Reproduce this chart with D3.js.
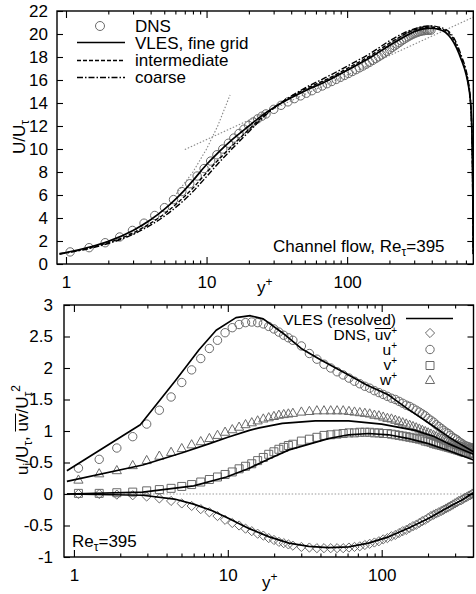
<!DOCTYPE html>
<html><head><meta charset="utf-8">
<script src="https://cdn.jsdelivr.net/npm/d3@7"></script>
<style>
body{margin:0;background:#fff}
svg{display:block}
text{font-family:"Liberation Sans",Arial,Helvetica,sans-serif;fill:#000}
</style>
</head><body>
<svg id="c" width="476" height="594"></svg>
<script>
// ---------- DATA ----------
// DNS wall-normal grid (y+)
const dnsYp = [1.07,1.46,1.90,2.41,2.97,3.59,4.28,5.02,5.82,6.67,7.59,8.57,9.60,10.69,11.84,13.04,14.31,15.63,17.01,18.44,19.94,21.48,23.09,24.75,
26.47,30.07,33.89,37.92,42.17,46.64,51.31,56.20,61.28,66.57,72.06,77.73,83.60,89.66,95.90,102.3,108.9,115.7,122.6,129.7,137.0,144.4,152.0,159.7,167.6,175.6,183.7,191.9,200.3,208.8,217.4,226.1,234.9,243.8,252.8,261.9,271.1,280.3,289.7,299.0,308.5,317.9,327.5,337.0,346.7,356.3,365.9,375.6,385.3,395];
// Top panel: mean velocity U/U_tau
const dnsU = [1.05,1.42,1.85,2.35,2.92,3.55,4.22,4.90,5.60,6.30,6.98,7.65,8.30,8.95,9.50,10.00,10.50,10.95,11.35,11.72,12.05,12.35,12.62,12.85,
13.05,13.45,13.80,14.10,14.38,14.62,14.85,15.07,15.28,15.48,15.68,15.87,16.05,16.23,16.40,16.57,16.74,16.90,17.06,17.22,17.38,17.54,17.70,17.86,18.02,18.18,18.34,18.50,18.66,18.82,18.97,19.12,19.26,19.40,19.53,19.65,19.76,19.86,19.95,20.03,20.10,20.16,20.21,20.25,20.28,20.30,20.32,20.33,20.34,20.34];
const vlesYp = [0.9,1,1.5,2,3,4,5,6,7,8,10,12,15,20,25,30,40,50,70,100,150,200,250,300,350,395,450,500,550,600,650,700,730,750,765,775,780,785,788,789.1];
const vlesFine = [0.9,1.0,1.5,1.97,2.92,3.85,4.75,5.62,6.45,7.25,8.65,9.65,10.75,12.0,12.95,13.6,14.45,15.05,15.85,16.85,18.05,19.0,19.7,20.2,20.45,20.5,
20.4,20.15,19.6,18.8,17.75,16.55,15.5,14.45,12.95,10.75,8.65,4.75,1.97,0.9];
const vlesInter = [0.88,0.97,1.42,1.85,2.7,3.55,4.35,5.15,5.9,6.6,7.95,9.0,10.2,11.7,12.8,13.55,14.5,15.2,16.0,17.0,18.2,19.2,19.9,20.35,20.55,20.6,
20.5,20.3,19.85,19.0,17.9,16.7,15.6,14.5,12.8,10.2,7.95,4.35,1.85,0.88];
const vlesCoarse = [0.85,0.95,1.38,1.78,2.58,3.38,4.15,4.9,5.6,6.3,7.6,8.7,9.95,11.5,12.7,13.55,14.6,15.3,16.2,17.2,18.4,19.4,20.05,20.45,20.65,20.7,
20.6,20.4,20.0,19.2,18.1,16.9,15.8,14.6,12.7,9.95,7.6,4.15,1.78,0.85];
const sublayerYp = [6.1,8,10,12,14.7];
const sublayerU  = [6.1,8,10,12,14.7];
const logLawYp = [7,790];
const logLawU  = [9.95,21.47];

// Bottom panel: DNS rms and shear stress
const dnsUrms = [0.41,0.55,0.73,0.91,1.11,1.33,1.54,1.77,1.97,2.15,2.31,2.44,2.56,2.64,2.69,2.72,2.73,2.72,2.70,2.66,2.62,2.57,2.52,2.48,
2.44,2.35,2.23,2.14,2.06,2.00,1.94,1.89,1.84,1.79,1.75,1.71,1.68,1.64,1.61,1.58,1.55,1.52,1.50,1.47,1.44,1.41,1.39,1.36,1.33,1.30,1.27,1.24,1.20,1.17,1.14,1.10,1.07,1.04,1.01,0.98,0.96,0.93,0.90,0.88,0.86,0.83,0.81,0.79,0.77,0.76,0.75,0.74,0.73,0.73];
const dnsWrms = [0.22,0.32,0.37,0.45,0.53,0.60,0.66,0.72,0.78,0.83,0.88,0.93,0.98,1.02,1.06,1.10,1.13,1.16,1.19,1.21,1.23,1.25,1.26,1.27,
1.28,1.30,1.31,1.32,1.32,1.32,1.32,1.32,1.31,1.30,1.29,1.28,1.27,1.25,1.24,1.22,1.20,1.19,1.17,1.15,1.13,1.11,1.09,1.07,1.05,1.03,1.01,0.99,0.97,0.95,0.93,0.91,0.89,0.87,0.86,0.84,0.83,0.81,0.80,0.78,0.77,0.76,0.75,0.74,0.73,0.72,0.71,0.71,0.70,0.70];
const dnsVrms = [0.01,0.01,0.02,0.03,0.05,0.07,0.09,0.12,0.15,0.19,0.23,0.27,0.31,0.35,0.40,0.44,0.48,0.53,0.58,0.63,0.67,0.71,0.74,0.77,
0.79,0.84,0.87,0.90,0.93,0.94,0.95,0.96,0.97,0.97,0.98,0.98,0.98,0.97,0.97,0.96,0.96,0.95,0.94,0.93,0.92,0.91,0.90,0.89,0.88,0.87,0.86,0.84,0.83,0.82,0.80,0.79,0.78,0.77,0.76,0.75,0.74,0.73,0.72,0.71,0.70,0.69,0.68,0.67,0.66,0.66,0.65,0.65,0.64,0.64];
const dnsUV = [0.00,0.00,-0.01,-0.02,-0.04,-0.07,-0.11,-0.15,-0.19,-0.24,-0.29,-0.35,-0.41,-0.46,-0.50,-0.55,-0.59,-0.63,-0.66,-0.70,-0.73,-0.76,-0.78,-0.80,
-0.82,-0.84,-0.85,-0.86,-0.86,-0.86,-0.86,-0.86,-0.85,-0.84,-0.83,-0.81,-0.79,-0.77,-0.75,-0.72,-0.70,-0.67,-0.65,-0.62,-0.59,-0.57,-0.54,-0.51,-0.49,-0.46,-0.43,-0.41,-0.38,-0.35,-0.33,-0.31,-0.29,-0.27,-0.25,-0.23,-0.21,-0.19,-0.17,-0.15,-0.13,-0.11,-0.10,-0.08,-0.06,-0.05,-0.03,-0.02,0.00,0.01];

const vlesUYp  = [0.9,2.7,4.6,6.5,8.4,11.3,14,17,22.6,30,40,61,80,111,150,201,271,330,395];
const vlesUVal = [0.37,1.10,1.81,2.29,2.60,2.80,2.83,2.78,2.56,2.31,2.13,1.89,1.73,1.57,1.34,1.13,0.91,0.78,0.67];
const vlesWYp  = [0.9,2.8,5,7.6,10,13.8,16,22.6,37,61,100,165,220,271,330,395];
const vlesWVal = [0.20,0.46,0.65,0.80,0.90,1.01,1.05,1.12,1.16,1.16,1.11,1.01,0.91,0.80,0.71,0.63];
const vlesVYp  = [0.9,2.8,6,9.8,13.8,18.6,25,45,61,82,111,150,201,271,330,395];
const vlesVVal = [0.0,0.03,0.13,0.27,0.41,0.56,0.70,0.88,0.94,0.96,0.94,0.88,0.80,0.69,0.61,0.54];
const vlesUVYp  = [0.9,2.8,4.5,6,8,10,13.8,18.6,25,33.6,45,61,82,111,150,201,271,330,395];
const vlesUVVal = [0.0,-0.02,-0.08,-0.16,-0.27,-0.38,-0.55,-0.68,-0.78,-0.83,-0.85,-0.84,-0.78,-0.68,-0.54,-0.39,-0.21,-0.10,0.02];

// Ticks
const xMajor = [1,10,100];
const xMinorTop = [2,3,4,5,6,7,8,9,20,30,40,50,60,70,80,90,200,300,400,500,600,700];
const xMinorBot = [2,3,4,5,6,7,8,9,20,30,40,50,60,70,80,90,200,300];
const yTicksTop = [0,2,4,6,8,10,12,14,16,18,20,22];
const yTicksBot = [-1,-0.5,0,0.5,1,1.5,2,2.5,3];

// ---------- DRAW ----------
const svg = d3.select('#c');
const MARK = '#6a6a6a';

function pair(xs, ys){ return xs.map((x,i)=>[x, ys[i]]); }

// draw an overline above a tspan (in the coordinate system of parent g)
function overline(parent, tspan, lift){
  const n = tspan.node(), len = n.getNumberOfChars();
  const a = n.getStartPositionOfChar(0), b = n.getEndPositionOfChar(len-1);
  parent.append('line').attr('x1',a.x).attr('x2',b.x).attr('y1',a.y-lift).attr('y2',b.y-lift)
    .attr('stroke','#000').attr('stroke-width',1);
}

function frame(x, y, xMinor, yTicks, yFmt, yPad){
  const [x0,x1] = x.range(), [y0,y1] = y.range();
  const g = svg.append('g');
  const styleAxis = s => { s.select('.domain').remove(); s.selectAll('line').attr('stroke','#000').attr('stroke-width',1.1); s.selectAll('text').attr('font-size',17).attr('font-family','"Liberation Sans",Arial,sans-serif'); };
  g.append('g').attr('transform',`translate(0,${y0})`).call(d3.axisBottom(x).tickValues(xMajor).tickSize(-7).tickPadding(12).tickFormat(d3.format('d'))).call(styleAxis);
  g.append('g').attr('transform',`translate(0,${y0})`).call(d3.axisBottom(x).tickValues(xMinor).tickSize(-3.5).tickFormat('')).call(styleAxis);
  g.append('g').attr('transform',`translate(0,${y1})`).call(d3.axisTop(x).tickValues(xMajor).tickSize(-7).tickFormat('')).call(styleAxis);
  g.append('g').attr('transform',`translate(0,${y1})`).call(d3.axisTop(x).tickValues(xMinor).tickSize(-3.5).tickFormat('')).call(styleAxis);
  g.append('g').attr('transform',`translate(${x0},0)`).call(d3.axisLeft(y).tickValues(yTicks).tickSize(-6).tickPadding(yPad).tickFormat(yFmt)).call(styleAxis);
  g.append('g').attr('transform',`translate(${x1},0)`).call(d3.axisRight(y).tickValues(yTicks).tickSize(-6).tickFormat('')).call(styleAxis);
  g.append('rect').attr('x',x0).attr('y',y1).attr('width',x1-x0).attr('height',y0-y1)
    .attr('fill','none').attr('stroke','#000').attr('stroke-width',1.4);
}

// ===== TOP PANEL =====
const xT = d3.scaleLog().domain([0.863, 790]).range([57, 473.3]);
const yT = d3.scaleLinear().domain([0, 22]).range([264, 11]);
svg.append('clipPath').attr('id','clipT').append('rect').attr('x',57).attr('y',11).attr('width',416.3).attr('height',253);
const pT = svg.append('g').attr('clip-path','url(#clipT)');
const lineT = d3.line().x(d=>xT(d[0])).y(d=>yT(d[1]));
const lineTc = d3.line().x(d=>xT(d[0])).y(d=>yT(d[1])).curve(d3.curveMonotoneX);

pT.append('path').attr('d',lineT(pair(sublayerYp,sublayerU))).attr('fill','none').attr('stroke','#888').attr('stroke-width',1.1).attr('stroke-dasharray','1.5,1.8');
pT.append('path').attr('d',lineT(pair(logLawYp,logLawU))).attr('fill','none').attr('stroke','#888').attr('stroke-width',1.1).attr('stroke-dasharray','1.5,1.8');

pT.selectAll('circle.dns').data(pair(dnsYp,dnsU)).join('circle')
  .attr('cx',d=>xT(d[0])).attr('cy',d=>yT(d[1])).attr('r',4.2)
  .attr('fill','none').attr('stroke',MARK).attr('stroke-width',1);

pT.append('path').attr('d',lineTc(pair(vlesYp,vlesCoarse))).attr('fill','none').attr('stroke','#000').attr('stroke-width',1.4).attr('stroke-dasharray','6,2,1.5,2');
pT.append('path').attr('d',lineTc(pair(vlesYp,vlesInter))).attr('fill','none').attr('stroke','#000').attr('stroke-width',1.4).attr('stroke-dasharray','4,2');
pT.append('path').attr('d',lineTc(pair(vlesYp,vlesFine))).attr('fill','none').attr('stroke','#000').attr('stroke-width',1.7);

frame(xT, yT, xMinorTop, yTicksTop, d3.format('d'), 9);

// legend top
const lgT = svg.append('g').attr('font-size',17);
lgT.append('circle').attr('cx',100).attr('cy',26).attr('r',4.5).attr('fill','none').attr('stroke',MARK).attr('stroke-width',1);
lgT.append('line').attr('x1',77).attr('x2',125).attr('y1',42.5).attr('y2',42.5).attr('stroke','#000').attr('stroke-width',1.7);
lgT.append('line').attr('x1',77).attr('x2',125).attr('y1',60.5).attr('y2',60.5).attr('stroke','#000').attr('stroke-width',1.3).attr('stroke-dasharray','4,2');
lgT.append('line').attr('x1',77).attr('x2',125).attr('y1',77.5).attr('y2',77.5).attr('stroke','#000').attr('stroke-width',1.3).attr('stroke-dasharray','6,2,1.5,2');
[['DNS',31.5],['VLES, fine grid',48.5],['intermediate',66],['coarse',83]].forEach(([t,y])=>{
  lgT.append('text').attr('x',135).attr('y',y).attr('font-size',17).text(t);
});

// annotation top
const annT = svg.append('text').attr('x',273).attr('y',252).attr('font-size',17);
annT.append('tspan').text('Channel flow, Re');
annT.append('tspan').attr('font-size',12).attr('dy',4).text('τ');
annT.append('tspan').attr('dy',-4).text('=395');

// axis labels top
const xlT = svg.append('text').attr('x',257).attr('y',293).attr('font-size',17);
xlT.append('tspan').text('y');
xlT.append('tspan').attr('font-size',12).attr('dy',-7).text('+');
const ylT = svg.append('text').attr('transform','translate(25,137) rotate(-90)').attr('text-anchor','middle').attr('font-size',17);
ylT.append('tspan').text('U/U');
ylT.append('tspan').attr('font-size',12).attr('dy',4).text('τ');

// ===== BOTTOM PANEL =====
const xB = d3.scaleLog().domain([0.862, 395]).range([64, 473.5]);
const yB = d3.scaleLinear().domain([-1, 3]).range([557, 305]);
svg.append('clipPath').attr('id','clipB').append('rect').attr('x',64).attr('y',305).attr('width',409.5).attr('height',252);
const pB = svg.append('g').attr('clip-path','url(#clipB)');
const lineB = d3.line().x(d=>xB(d[0])).y(d=>yB(d[1]));

pB.append('line').attr('x1',64).attr('x2',473.5).attr('y1',yB(0)).attr('y2',yB(0)).attr('stroke','#999').attr('stroke-width',1).attr('stroke-dasharray','1.5,1.8');

const sym = {
  circle: 'M4.2,0A4.2,4.2,0,1,1,-4.2,0A4.2,4.2,0,1,1,4.2,0Z',
  square: 'M-4,-4L4,-4L4,4L-4,4Z',
  triangle: 'M0,-5.2L4.6,3L-4.6,3Z',
  diamond: 'M0,-4.6L4.6,0L0,4.6L-4.6,0Z'
};
function markers(vals, s){
  pB.append('g').selectAll('path').data(pair(dnsYp, vals)).join('path')
    .attr('transform', d=>`translate(${xB(d[0])},${yB(d[1])})`)
    .attr('d', sym[s]).attr('fill','none').attr('stroke',MARK).attr('stroke-width',1);
}
markers(dnsUV,'diamond');
markers(dnsUrms,'circle');
markers(dnsVrms,'square');
markers(dnsWrms,'triangle');

[[vlesUYp,vlesUVal],[vlesWYp,vlesWVal],[vlesVYp,vlesVVal],[vlesUVYp,vlesUVVal]].forEach(([xs,ys])=>{
  pB.append('path').attr('d',lineB(pair(xs,ys))).attr('fill','none').attr('stroke','#000').attr('stroke-width',1.7).attr('stroke-linejoin','round');
});

frame(xB, yB, xMinorBot, yTicksBot, d=>String(d), 11);

// legend bottom
const lgB = svg.append('g').attr('font-size',15.5).attr('text-anchor','end');
lgB.append('text').attr('x',396).attr('y',325).text('VLES (resolved)');
lgB.append('line').attr('x1',406).attr('x2',453).attr('y1',318.5).attr('y2',318.5).attr('stroke','#000').attr('stroke-width',1.7);
const t2 = lgB.append('text').attr('x',397).attr('y',340);
t2.append('tspan').text('DNS, ');
const uvL = t2.append('tspan').text('uv');
t2.append('tspan').attr('font-size',10).attr('dy',-6).text('+');
overline(lgB, uvL, 11.5);
[['u',355],['v',370],['w',385]].forEach(([c,y])=>{
  const t = lgB.append('text').attr('x',397).attr('y',y);
  t.append('tspan').text(c);
  t.append('tspan').attr('font-size',10).attr('dy',-6).text('+');
});
[['diamond',333],['circle',349.5],['square',365.5],['triangle',380.5]].forEach(([s,y])=>{
  svg.append('path').attr('transform',`translate(430,${y})`).attr('d',sym[s]).attr('fill','none').attr('stroke',MARK).attr('stroke-width',1);
});

// annotation bottom
const annB = svg.append('text').attr('x',72).attr('y',547).attr('font-size',17);
annB.append('tspan').text('Re');
annB.append('tspan').attr('font-size',12).attr('dy',4).text('τ');
annB.append('tspan').attr('dy',-4).text('=395');

// axis labels bottom
const xlB = svg.append('text').attr('x',262).attr('y',588).attr('font-size',17);
xlB.append('tspan').text('y');
xlB.append('tspan').attr('font-size',12).attr('dy',-7).text('+');
const ylBg = svg.append('g').attr('transform','translate(28,430) rotate(-90)');
const ylB = ylBg.append('text').attr('text-anchor','middle').attr('font-size',17);
ylB.append('tspan').text('u');
ylB.append('tspan').attr('font-size',12).attr('dy',4).text('i');
ylB.append('tspan').attr('dy',-4).text('/U');
ylB.append('tspan').attr('font-size',12).attr('dy',4).text('τ');
ylB.append('tspan').attr('dy',-4).text(', ');
const uvY = ylB.append('tspan').text('uv');
ylB.append('tspan').text('/U');
ylB.append('tspan').attr('font-size',12).attr('dy',4).text('τ');
ylB.append('tspan').attr('font-size',12).attr('dy',-12).text('2');
overline(ylBg, uvY, 12.5);
</script>
</body></html>
